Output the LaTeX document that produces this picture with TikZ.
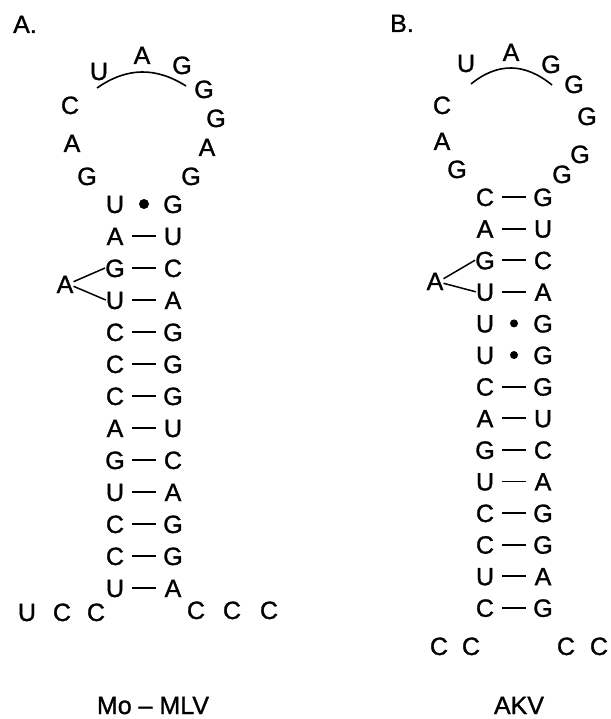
\documentclass[tikz,border=0pt]{standalone}
\usepackage{fontspec}
\setmainfont{Liberation Sans}[FakeBold=1.2]
\usepackage{tikz}
\usetikzlibrary{calc}
\tikzset{
  base/.style={inner sep=0pt,font=\fontsize{25}{29}\selectfont,
               text height=18pt,text depth=0pt},
  panellabel/.style={base},
  bond/.style={line width=1.8pt,shorten <=17pt,shorten >=17pt},
  gudot/.style={circle,fill=black,inner sep=0pt,minimum size=9pt},
  loopline/.style={line width=1.6pt},
  bulgeline/.style={line width=1.5pt}
}
\begin{document}
\begin{tikzpicture}[x=1pt,y=-1pt]
        \useasboundingbox (0,0) rectangle (610,719);
        % panel A
        \node[panellabel] (labA) at (25,24) {A.};
        \foreach \n/\x/\y [count=\i] in {G/87/176,A/72/143,C/70/105,U/99/71,A/142/55,
            G/182/65,G/204/89,G/216/118,A/207/147,G/191/176}{
          \node[base] (aLoop\i) at (\x,\y) {\n};
        }
        \coordinate (arcA1) at (97,88);
        \coordinate (arcA2) at (186,86);
        \draw[loopline] (arcA1) .. controls +(30,-21) and +(-30,-19) .. (arcA2);
        \foreach \l/\r/\t [count=\i from 0] in {U/G/0,A/U/1,G/C/1,U/A/1,C/G/1,C/G/1,
            C/G/1,A/U/1,G/C/1,U/A/1,C/G/1,C/G/1,U/A/1}{
          \node[base] (aL\i) at (115,204+32*\i) {\l};
          \node[base] (aR\i) at (173,204+32*\i) {\r};
          \ifnum\t=1
            \draw[bond] (aL\i.center) -- (aR\i.center);
          \else
            \node[gudot,minimum size=10pt] (aGU\i) at ($(aL\i)!0.5!(aR\i)$) {};
          \fi
        }
        \node[base] (aBulge) at (65,284) {A};
        \draw[bulgeline] (aBulge.15) -- (aL2.west);
        \draw[bulgeline] (aBulge.-15) -- (aL3.west);
        \foreach \n/\x/\y [count=\i] in {U/27/612,C/62/612,C/96/612,
            C/196/610,C/232/610,C/269/610}{
          \node[base] (aTail\i) at (\x,\y) {\n};
        }
        \node[base] (nameA) at (153,705) {Mo -- MLV};
        % panel B
        \node[panellabel] (labB) at (402,23) {B.};
        \foreach \n/\x/\y [count=\i] in {G/457/169,A/442/141,C/442/105,U/466/63,A/511/52,
            G/551/64,G/574/84,G/587/116,G/580/154,G/562/174}{
          \node[base] (bLoop\i) at (\x,\y) {\n};
        }
        \coordinate (arcB1) at (471,84);
        \coordinate (arcB2) at (552,85);
        \draw[loopline] (arcB1) .. controls +(27,-22) and +(-27,-22) .. (arcB2);
        \foreach \l/\r/\t [count=\i from 0] in {C/G/1,A/U/1,G/C/1,U/A/1,U/G/0,U/G/0,
            C/G/1,A/U/1,G/C/1,U/A/1,C/G/1,C/G/1,U/A/1,C/G/1}{
          \node[base] (bL\i) at (485,197+31.6*\i) {\l};
          \node[base] (bR\i) at (543,197+31.6*\i) {\r};
          \ifnum\t=1
            \draw[bond] (bL\i.center) -- (bR\i.center);
          \else
            \node[gudot,minimum size=8pt] (bGU\i) at ($(bL\i)!0.5!(bR\i)$) {};
          \fi
        }
        \node[base] (bBulge) at (435,281) {A};
        \draw[bulgeline] (bBulge.15) -- (bL2.west);
        \draw[bulgeline] (bBulge.-15) -- (bL3.west);
        \foreach \n/\x/\y [count=\i] in {C/439/646,C/471/646,C/566/646,C/599/646}{
          \node[base] (bTail\i) at (\x,\y) {\n};
        }
        \node[base] (nameB) at (519,705) {AKV};
\end{tikzpicture}
\end{document}
